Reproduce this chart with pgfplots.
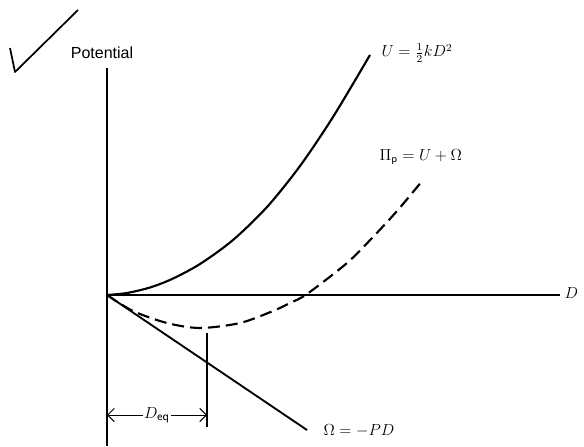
\documentclass[border=0pt]{standalone}
\usepackage{pgfplots}
\pgfplotsset{compat=1.18}
\usepackage{fontspec}
\setmainfont{Liberation Sans}
\usetikzlibrary{arrows.meta}

\begin{document}
\begin{tikzpicture}
\begin{axis}[
    scale only axis,
    width=438pt, height=334.5pt,
    xmin=-1.07, xmax=4.77,
    ymin=-1.51, ymax=2.95,
    hide axis,
    clip=false,
]
% axes
\addplot[black, line width=1.1pt] coordinates {(0,-1.51) (0,2.27)};
\addplot[black, line width=1.0pt] coordinates {(0,0) (4.53,0)};

% U = 1/2 k D^2
\addplot[black, line width=1.6pt, smooth] coordinates {
    (0,0) (0.20,0.02) (0.43,0.075) (0.65,0.16) (0.93,0.31) (1.26,0.55)
    (1.60,0.88) (1.93,1.29) (2.26,1.78) (2.63,2.40)
};
% Pi_p = U + Omega
\addplot[black, line width=1.6pt, smooth, dash pattern=on 9pt off 4.5pt] coordinates {
    (0,0) (0.26,-0.16) (0.60,-0.28) (0.93,-0.33) (1.33,-0.28)
    (1.66,-0.16) (1.83,-0.08) (2.00,0.01) (2.40,0.32) (2.66,0.58)
    (2.90,0.84) (3.16,1.15)
};
% Omega = -PD
\addplot[black, line width=1.4pt] coordinates {(0,0) (2.00,-1.35)};
% D_eq marker
\addplot[black, line width=0.9pt] coordinates {(1.00,-0.38) (1.00,-1.32)};
\draw[{Straight Barb[length=5pt]}-{Straight Barb[length=5pt]}, line width=0.7pt]
    (axis cs:0,-1.20) -- (axis cs:1.00,-1.20)
    node[midway, fill=white, inner sep=1pt] {\fontsize{13}{15}\selectfont $D_{\mathsf{eq}}$};

% labels
\node at (axis cs:-0.05,2.42) {\fontsize{12}{14}\selectfont Potential};
\node[anchor=west] at (axis cs:2.70,2.42) {\fontsize{12}{14}\selectfont $U=\frac{1}{2}kD^2$};
\node[anchor=west] at (axis cs:2.68,1.38) {\fontsize{12}{14}\selectfont $\Pi_{\mathsf{p}}=U+\Omega$};
\node[anchor=west] at (axis cs:2.12,-1.36) {\fontsize{12}{14}\selectfont $\Omega=-PD$};
\node[anchor=west] at (axis cs:4.53,0.02) {\fontsize{13}{15}\selectfont $D$};

% check mark
\draw[line width=1.3pt, line join=round] (axis cs:-0.97,2.47) -- (axis cs:-0.92,2.23) -- (axis cs:-0.29,2.85);
\end{axis}
\pgfresetboundingbox
\path (0,0) rectangle (438pt,334.5pt);
\end{tikzpicture}
\end{document}
